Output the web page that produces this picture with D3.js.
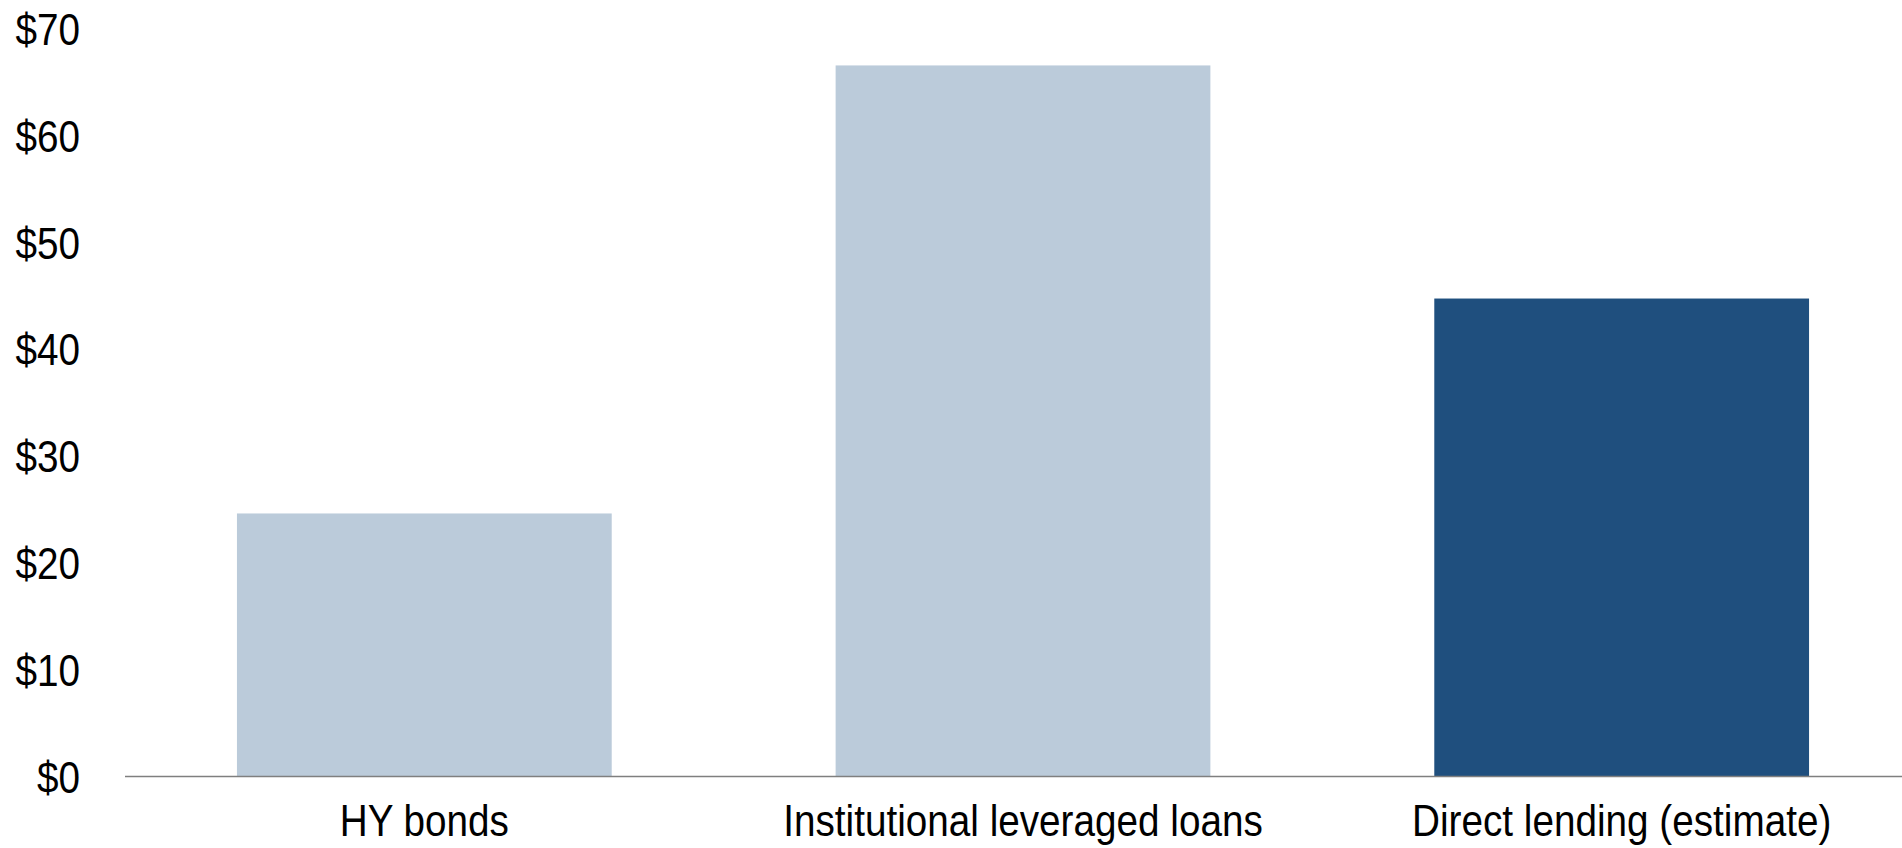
<!DOCTYPE html>
<html>
<head>
<meta charset="utf-8">
<script src="https://cdn.jsdelivr.net/npm/d3@7"></script>
<style>
  html, body { margin: 0; padding: 0; background: #fff; }
  svg { display: block; }
  text { font-family: "Liberation Sans Narrow", "Arial Narrow", "Liberation Sans", Arial, sans-serif; fill: #000; }
</style>
</head>
<body>
<svg id="chart" width="1902" height="848"></svg>
<script>
// Categories and values (USD)
const categories = ["HY bonds", "Institutional leveraged loans", "Direct lending (estimate)"];
const values = [24.6, 66.5, 44.7];
const barColors = ["#bbcbda", "#bbcbda", "#1f4f7e"];
const yTicks = [0, 10, 20, 30, 40, 50, 60, 70];

const svg = d3.select("#chart");
const W = 1902, H = 848;
const FONT_SIZE = 45;
const CONDENSE = "scale(0.86,1)"; // narrow letterforms

const y = d3.scaleLinear().domain([0, 70]).range([776.5, 28]);
const x = d3.scaleBand()
  .domain(categories)
  .range([125, 1921])
  .paddingInner(0.374)
  .paddingOuter(0.187);

// Bars
svg.append("g").selectAll("rect")
  .data(categories)
  .join("rect")
  .attr("x", d => x(d))
  .attr("width", x.bandwidth())
  .attr("y", (d, i) => y(values[i]))
  .attr("height", (d, i) => y(0) - y(values[i]))
  .attr("fill", (d, i) => barColors[i]);

// Y axis: labels only
const yAxis = d3.axisLeft(y)
  .tickValues(yTicks)
  .tickSize(0)
  .tickPadding(0)
  .tickFormat(d => "$" + d);
const gy = svg.append("g").attr("transform", "translate(80,0)").call(yAxis);
gy.select(".domain").remove();
gy.selectAll("text")
  .attr("font-size", FONT_SIZE)
  .attr("font-family", null)
  .attr("fill", "#000")
  .attr("x", 0)
  .attr("dy", "0.36em")
  .attr("transform", CONDENSE);

// X axis: baseline and category labels
const xAxis = d3.axisBottom(x).tickSize(0).tickPadding(0);
const gx = svg.append("g").attr("transform", `translate(0,${y(0)})`).call(xAxis);
gx.select(".domain").remove();
gx.selectAll("text")
  .attr("font-size", FONT_SIZE)
  .attr("font-family", null)
  .attr("fill", "#000")
  .attr("dy", null)
  .attr("y", 60)
  .attr("transform", CONDENSE);

svg.append("line")
  .attr("x1", 125).attr("x2", W)
  .attr("y1", y(0)).attr("y2", y(0))
  .attr("stroke", "#7f7f7f")
  .attr("stroke-width", 1.5);
</script>
</body>
</html>
